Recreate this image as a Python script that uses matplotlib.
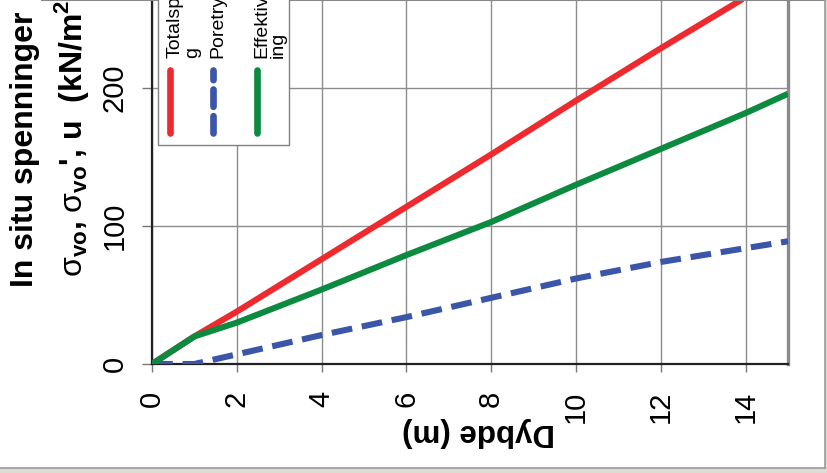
import matplotlib.pyplot as plt
from matplotlib.lines import Line2D
from matplotlib.patches import Rectangle

plt.rcParams['font.family'] = ['Liberation Sans', 'DejaVu Sans']
plt.rcParams['mathtext.fontset'] = 'custom'
plt.rcParams['mathtext.rm'] = 'Liberation Sans'
plt.rcParams['mathtext.bf'] = 'Liberation Sans:bold'

# data (depth in m, stresses in kN/m2)
depth = [0, 1, 2, 4, 6, 8, 10, 12, 14, 15]
total = [0, 20, 38, 76, 114, 152, 191, 229, 266, 285]
pore = [0, 0, 7, 21, 34, 48, 62, 74, 84, 89]
effective = [0, 20, 30, 54, 79, 103, 130, 156, 182, 196]

names = ['Totalspennin\ng', 'Poretrykk', 'Effektivspenn\ning']
colors = ['#ee2a2e', '#3b55a8', '#0c8a40']
xticks = [0, 2, 4, 6, 8, 10, 12, 14]
yticks = [0, 100, 200]

W, H = 827, 473
fig = plt.figure(figsize=(W / 100, H / 100), dpi=100)
fig.patch.set_facecolor('white')

ax = fig.add_axes([152 / W, 109 / H, 636 / W, 364 / H])
ax.set_xlim(0, 15)
ax.set_ylim(0, 264)

lw = 4.4
ax.plot(depth, total, color=colors[0], lw=lw, solid_capstyle='butt', zorder=3)
ax.plot(depth, pore, color=colors[1], lw=lw, dashes=(3.4, 1.6), dash_capstyle='butt', zorder=3)
ax.plot(depth, effective, color=colors[2], lw=lw, solid_capstyle='butt', zorder=4)

ax.set_xticks(xticks)
ax.set_yticks(yticks)
ax.set_xticklabels([str(v) for v in xticks], rotation=90, fontsize=21)
ax.set_yticklabels([str(v) for v in yticks], rotation=90, fontsize=21, va='center')
ax.tick_params(axis='x', direction='out', length=6, width=1, color='#777777', pad=13)
ax.tick_params(axis='y', direction='out', length=7, width=1, color='#777777', pad=10)
ax.grid(True, color='#8c8c8c', lw=1)
ax.set_axisbelow(True)

ax.spines['top'].set_visible(False)
ax.spines['left'].set_color('#222222')
ax.spines['left'].set_linewidth(1.6)
ax.spines['bottom'].set_color('#222222')
ax.spines['bottom'].set_linewidth(1.6)
ax.spines['right'].set_color('#8a8a8a')
ax.spines['right'].set_linewidth(2.4)

ax.set_xlabel('Dybde (m)', fontsize=22.5, fontweight='bold', rotation=180, va='center')
ax.xaxis.set_label_coords(0.514, -0.187)

# axis title, two lines
fig.text(33 / W, (H - 287) / H, 'In situ spenninger', rotation=90, rotation_mode='anchor',
         ha='left', va='baseline', fontsize=23, fontweight='bold')
fig.text(82 / W, (H - 277) / H,
         r"$\mathrm{σ}_{\mathbf{vo}}$, $\mathrm{σ}_{\mathbf{vo}}$', u  (kN/m$^{\mathbf{2}}$)",
         rotation=90, rotation_mode='anchor', ha='left', va='baseline',
         fontsize=23, fontweight='bold')

# legend box with rotated entries
fig.add_artist(Rectangle((158 / W, (H - 145) / H), 131 / W, 160 / H, transform=fig.transFigure,
                         facecolor='white', edgecolor='#808080', lw=1, zorder=5))
sample_x = [170, 213, 257]
text_x = [197, 222, 283]
styles = [dict(), dict(dashes=(2.6, 1.4), dash_capstyle='round'), dict()]
for name, c, sx, tx, st in zip(names, colors, sample_x, text_x, styles):
    fig.add_artist(Line2D([sx / W, sx / W], [(H - 133) / H, (H - 70) / H], transform=fig.transFigure,
                          color=c, lw=4.8, solid_capstyle='round', zorder=6, **st))
    fig.text(tx / W, (H - 58) / H, name, rotation=90, rotation_mode='anchor', ha='left',
             va='baseline', fontsize=14, linespacing=1.0, zorder=6)

# outer chart frame and the page below it
fig.add_artist(Line2D([42 / W, 825 / W], [1 - 0.5 / H, 1 - 0.5 / H], transform=fig.transFigure,
                      color='#888888', lw=1.5))
fig.add_artist(Rectangle((0, 0), 1, 5 / H, transform=fig.transFigure, facecolor='#dcdcd4',
                         edgecolor='none'))
fig.add_artist(Rectangle((825 / W, 0), 2 / W, 1, transform=fig.transFigure, facecolor='#dcdcd4',
                         edgecolor='none'))
fig.add_artist(Line2D([0, 825 / W], [5 / H, 5 / H], transform=fig.transFigure, color='#999999', lw=1.2))
fig.add_artist(Line2D([825 / W, 825 / W], [5 / H, 1], transform=fig.transFigure, color='#999999', lw=1.2))

fig.savefig('out.png', dpi=100)
